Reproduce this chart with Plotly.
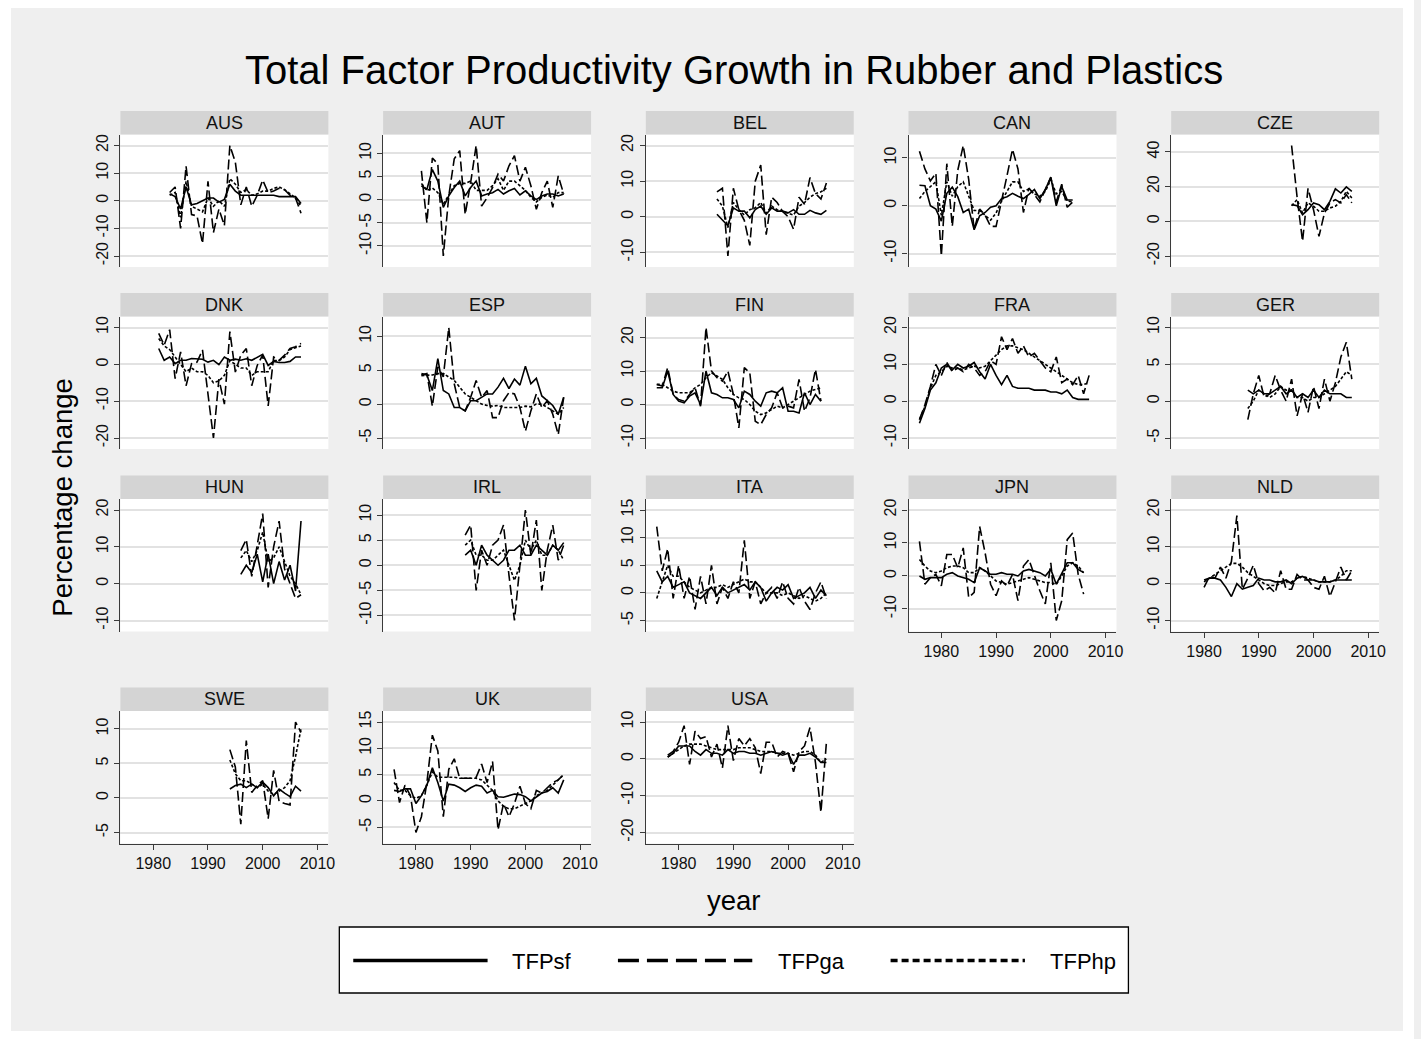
import plotly.graph_objects as go

W, H = 1421, 1039
FONT = "Liberation Sans, Arial, Helvetica, sans-serif"

TITLE = "Total Factor Productivity Growth in Rubber and Plastics"
Y_TITLE = "Percentage change"
X_TITLE = "year"
SERIES = ["TFPsf", "TFPga", "TFPhp"]
X_TICKS = [1980, 1990, 2000, 2010]

# ---- growth rates (percent), one list per measure, consecutive years from *_START ----
AUS_START = 1983
AUS_SF = [2.5, 1.5, -3, 5, -1.5, -1, 0, 1, 1, -0.5, 0.5, 6, 3.5, 2, 2, 2, 2, 2, 2, 2, 1.5, 1.5, 1.5, 1.5, -1]
AUS_GA = [3, 5, -10, 12.5, -5, -5.5, -15.5, 7, -11.5, -3, -9, 20, 14, -1.5, 5, -2, 2, 7.5, 3, 3.5, 4.5, 4, 2, 1, -4.5]
AUS_HP = [2, 3, -6, 7, -2, -3, -4, 1, -2, 0, -2, 8, 6, 3, 4, 2, 2.5, 3.5, 3.5, 4.5, 5, 4, 2.5, 1, -2]
AUS_YTICKS = [-20, -10, 0, 10, 20]

AUT_START = 1981
AUT_SF = [3, 2.2, 6.5, 4, -1.7, 0.8, 2.6, 4, 0.8, 2.6, 4, 0.8, 1.2, 1.5, 2.2, 1.2, 1.9, 2.4, 1, 1.9, 0.8, 0, 0.8, 1.2, 1.2, 0.8, 1.2]
AUT_GA = [6.2, -5, 9, 7.7, -12.2, 0.8, 8.8, 10.6, -3.2, 3.7, 11.7, -1.4, 0.4, 2.6, 5.5, 4, 7.3, 9.5, 4, 7, 3, -2.1, 1.5, 4, -1.7, 5.1, 1.2]
AUT_HP = [3.5, 2, 2.5, 1.5, -1, 1, 3, 3.5, 3.5, 4, 2, 2, 2, 3, 4.5, 2, 4, 4, 3, 2, 0.5, -0.5, 0.5, 1, 0.5, 1.5, 1.5]
AUT_YTICKS = [-10, -5, 0, 5, 10]

BEL_START = 1987
BEL_SF = [0.7, -0.8, -2.5, 2.5, 1.6, 1.6, -0.3, 2, 3, 0.7, 2.5, 1.6, 1.6, 1.1, 2, 0.7, 0.7, 1.8, 1.1, 0.7, 1.8]
BEL_GA = [7, 8, -11, 8, 2, -1, -8, 10, 14.5, -5, 5.5, 4, 1.5, 0, -3.5, 5.5, 3.5, 11, 6.5, 5, 9.5]
BEL_HP = [5, 3, -3, 4, 2, 0.5, 2, 2.5, 4, 1, 3, 2, 1.5, 1, 0.5, 3, 4, 5.5, 6.5, 7, 8]
BEL_YTICKS = [-10, 0, 10, 20]

CAN_START = 1976
CAN_SF = [4.3, 4.2, 0, -0.7, -3.2, 2.6, 3.9, 1.9, -1.4, -0.7, -5, -2.1, -1.4, -0.3, 0, 1.5, 1.9, 2.6, 2, 1.5, 2.4, 3.4, 1.5, 3.4, 6, 0, 4, 1.2, 1.2]
CAN_GA = [11.4, 7.7, 5.2, 6.8, -10.5, 8.8, -4.3, 7.4, 12.6, 5.5, -5, -0.7, -2, -4.3, -4.3, 0.8, 6.3, 11.8, 7.7, -1.4, 3.7, 2.3, 0.8, 3.4, 5.9, 0.8, 4.5, -0.3, 0.8]
CAN_HP = [1.5, 3, 4, 5, -2, 5, 2, 4, 5, 2, -1, -1, -2, -3, -1.5, 1, 3, 5, 5, 3, 3.5, 2.5, 2, 3, 5.5, 2.5, 3, 1, 0.8]
CAN_YTICKS = [-10, 0, 10]

CZE_START = 1996
CZE_SF = [9.6, 9, 3.8, 6.7, 10.6, 9.6, 6.7, 11.5, 18.7, 16.3, 19.8, 17.3]
CZE_GA = [43.7, 14, -11.5, 19, 6.7, -8.7, 4.8, 10.6, 12.5, 10.6, 15.4, 10.6]
CZE_HP = [9, 12.5, 4.8, 10.6, 8.7, 5.8, 5.8, 7.7, 8.7, 11.5, 17.3, 13.5]
CZE_YTICKS = [-20, 0, 20, 40]

DNK_START = 1981
DNK_SF = [4.3, 1.1, 2, 0.2, 1.1, 1.1, 1.6, 1.6, 1.4, 0.6, 1.1, -0.1, 2, 1.1, 1.4, 1.1, 1.5, 1.1, 2, 2.7, -0.3, 0.8, 0.5, 0.5, 0.8, 2, 2]
DNK_GA = [8.4, 5.2, 9.4, -3.9, 3.4, -5.8, 0.2, 0.6, 3.9, -8.5, -20, -4, -10.8, 8.9, -2.1, 2.5, 4.3, -5.8, -0.3, 2.5, -11.3, 2, 1.1, 2.5, 4.3, 4.8, 5.7]
DNK_HP = [7, 5, 4, 2, 0, -2, -1, -2, -2, -3, -5, -4.5, -3, 1, 0, -1, -1, -3, -2, -2, -2, 1, 1, 2, 4, 4.5, 5]
DNK_YTICKS = [-20, -10, 0, 10]

ESP_START = 1981
ESP_SF = [4.5, 4.3, 2, 6.7, 2, 1.5, -0.5, -0.5, -1, 0.5, 0.5, 1, 1.5, 1.5, 2.5, 3.8, 2.3, 3.7, 2.8, 5.6, 3, 3.8, 1.2, 0.5, -0.2, -1.5, 1]
ESP_GA = [4.3, 4.5, -0.3, 5.5, 4, 11.3, 3, -0.5, -1, 1, 3.5, 1, 2, -2, -2, 0.5, 1.7, 1.5, -0.5, -4, -1, 1.5, -0.5, 0.5, -1.5, -4.5, 1]
ESP_HP = [4.2, 4.2, 4.3, 4.5, 4.5, 4, 3.5, 2.5, 1.5, 1, 0.5, 0, -0.2, -0.3, -0.2, -0.5, -0.5, -0.5, -0.5, -0.3, -0.4, 0, 0, -0.5, -1, -1.5, -0.5]
ESP_YTICKS = [-5, 0, 5, 10]

FIN_START = 1976
FIN_SF = [5, 5, 10, 3, 1, 0.5, 2.5, 3.5, 0, 10, 3.5, 3, 2, 2, 1.5, -1, 4, 3, 1, -0.5, 3.5, 4, 3.5, 5, -2, -2, -2.5, 3.5, 0, 3, 1]
FIN_GA = [6, 5.5, 11, 3, 1.5, 1, 3, 5, -0.5, 23, 10, 8, 7, 10, 3, -7, 11, 9.5, -5, -6, -3, -1, 3.5, -1, -0.5, -1, 7.5, -2, 2, 10.5, 1]
FIN_HP = [6, 6, 5, 4, 3.5, 3.5, 3.5, 5, 6, 8, 9.5, 8.5, 7.5, 5, 3, 2, 1.5, 0, -2, -3, -2.5, -1.5, -0.5, -1, 0, 1, 2, 3, 4, 4.5, 5]
FIN_YTICKS = [-10, 0, 10, 20]

FRA_START = 1976
FRA_SF = [-6, -2, 3, 5, 9, 10, 8.5, 10, 9, 9.5, 10.5, 8, 6, 10, 7, 4.5, 7, 4, 3.5, 3.5, 3.5, 3, 3, 3, 2.5, 2.5, 2, 3, 1, 0.5, 0.5, 0.5]
FRA_GA = [-5, -1, 4, 10, 7, 10.5, 8, 9, 8, 10, 9, 7, 8, 11, 10, 17.5, 14, 17, 13, 15, 12, 13, 11, 9, 8, 12, 5, 6, 4.5, 7, 2, 7]
FRA_HP = [-5, -1.5, 3.5, 7, 8, 9.5, 9, 9, 8.5, 9, 9.5, 9, 9.5, 11, 12.5, 14, 15, 15, 14.5, 14, 13, 12, 11, 10, 9, 8, 7, 6, 5, 4.5, 4.5, 5]
FRA_YTICKS = [-10, 0, 10, 20]

GER_START = 1988
GER_SF = [1.5, 1, 1.5, 1, 1, 1.5, 2, 1, 1.5, 0.5, 1, 0.5, 1.5, 0.5, 1.5, 1, 1, 1, 0.5, 0.5]
GER_GA = [-2.5, 1, 3.5, 0.5, 1, 3.5, 1.5, 0, 3, -2, 1, -1.5, 2, -1, 3, 0, 2.5, 6, 8, 3]
GER_HP = [-1, 0, 1.5, 1, 0.5, 1, 2, 1.5, 1.5, 0.5, 0.5, 0, 0.5, 0.5, 1, 1.5, 2, 3, 4, 3.5]
GER_YTICKS = [-5, 0, 5, 10]

HUN_START = 1996
HUN_SF = [2.5, 5, 3, 8, 0.5, 8, 0, 6, 1, 5, -2, 17]
HUN_GA = [9, 12, 2, 10, 19, -1, 10, 17, 4, 0, -4, -3]
HUN_HP = [7, 9, 6, 9, 14, 6, 7, 10, 6, 2, 0, -3]
HUN_YTICKS = [-10, 0, 10, 20]

IRL_START = 1989
IRL_SF = [2, 3, 0, 4, 2, 1, 0, 1, 3, 3, 4, 2, 2, 4, 3, 2, 4, 3, 4.5]
IRL_GA = [6, 8, -5, 3, 0, 4, 5, 8, -2, -11, 0, 11, 2, 9, -5, 3, 8, 1, 4]
IRL_HP = [4, 5, 2, 2, 1, 1, 2, 3, 0, -3, 0, 5, 3, 5, 2, 2, 4, 3, 1]
IRL_YTICKS = [-10, -5, 0, 5, 10]

ITA_START = 1976
ITA_SF = [4, 2, 3, 1, 1.5, 2, 0, -0.5, -1, 0, 1, -0.5, 1, 0, 0.5, 1, 1.5, 0.5, 2, 1, -1.5, 0, 1, 0.5, 1.5, -1, -0.5, 0, 1, -1, 0.5, -0.5]
ITA_GA = [12, 4, 8, -1, 5, -1, 3, -3, 3, -2, 5, -2, 1, -1, 2, 0, 9.5, -1, 2, -2, 0, 1, -1, 2, -1, -2, 1, -1.5, -3, 0, 2, -1]
ITA_HP = [-1, 2, 5, 3, 3, 2, 1, 0.5, 0, 0.5, 1, 1, 1.5, 1, 1.5, 2, 2.5, 2, 2, 1, 0, 0, 0, -0.5, 0, -0.5, -1, -0.5, -1, -1.5, -1, 0]
ITA_YTICKS = [-5, 0, 5, 10, 15]

JPN_START = 1976
JPN_SF = [0, -1, -0.5, -0.5, -0.5, 0.5, 1, 0, -0.5, -1, -2, 2.5, 1.5, 0.5, 0.5, 1, 0.5, 0.5, 0, 1.5, 2, 1.5, 1, 0, 2, -2.5, 1, 4, 4, 2, 1]
JPN_GA = [10.5, -2.5, -0.5, 0.5, -3, 6.5, 6.5, 2.5, 8.5, -6.5, -5, 15, 7, -2.5, -6, -1.5, -3, 0.5, -7.5, 3, 5, 0, -4.5, -8.5, 4, -13.5, -7.5, 11, 13, 0.5, -5.5]
JPN_HP = [5, 3, 1.5, 1, 1.5, 2.5, 3, 3, 2.5, 1, 1, 2.5, 1.5, 0, -1.5, -2, -2.5, -2, -1.5, -1, -0.5, -1, -1.5, -2, -2, -2.5, 0, 3, 4, 3, 1]
JPN_YTICKS = [-10, 0, 10, 20]

NLD_START = 1980
NLD_SF = [1, 1.5, 1.5, 1, -1, -3.5, 0, -1.5, -1, -0.5, 1.5, 1, 1, 0.5, 0.5, 1, 0, 1.5, 2, 1, 1, 0.5, 0.5, 0.5, 1, 1, 1, 1]
NLD_GA = [-1, 2, 1.5, 4.5, 1.5, 6, 18.5, -1.5, 1.5, 5, 0, -2, -1, -2.5, 3.5, -1.5, -1.5, 2.5, 1, 1, -1, -1.5, 2, -3.5, 0.5, 4.5, 1, 3.5]
NLD_HP = [0.5, 1.5, 2.5, 3.5, 4.5, 5.5, 5.5, 4.5, 3, 2, 1, 0, -0.5, -0.5, 0, 0.5, 0.5, 1.5, 2, 1.5, 1, 0.5, 0.5, 0.5, 1, 2, 3.5, 3.5]
NLD_YTICKS = [-10, 0, 10, 20]

SWE_START = 1994
SWE_SF = [1.3, 1.8, 2, 1.5, 2, 1.5, 2.3, 1.5, 0.3, 1.3, 0.7, 0.2, 1.7, 1]
SWE_GA = [7, 4.5, -3.8, 8.3, 0.8, 1.8, 2.5, -3, 4, -0.5, -0.8, -1, 11, 9.5]
SWE_HP = [5.5, 3.5, 2.5, 2.5, 2, 1.5, 2, 1, 0.5, 1, 1.5, 2.5, 6, 10]
SWE_YTICKS = [-5, 0, 5, 10]

UK_START = 1976
UK_SF = [2, 1.8, 2.3, 2.3, -0.5, 1, 3, 6.3, 3.5, 0, 3.2, 3, 2.5, 1.8, 2.5, 3, 2.8, 1.5, 2, 0.8, 0.7, 1, 1.3, 1.2, 0.8, 0, 0.8, 1.5, 1.8, 2.5, 1.5, 4]
UK_GA = [6, -0.3, 3, 1, -6, -3, 3.5, 12.5, 9.5, -3, 6, 8, 4.3, 4.3, 4.3, 4.5, 7, 3.5, 7.5, -5.5, -0.5, -3, -0.5, 2.8, -0.5, -1.5, 2, 1.5, 2.5, 3.5, 4, 5]
UK_HP = [3.5, 2, 2, 1, 0.5, 1, 3, 5.5, 4.5, 4.5, 4.5, 4.5, 4.3, 4.3, 4.3, 4.3, 4, 3, 2, 0, -1, -1.5, -1.5, -1, -0.5, 0, 1, 1.5, 2, 3, 4, 5]
UK_YTICKS = [-5, 0, 5, 10, 15]

USA_START = 1978
USA_SF = [0.5, 1.5, 3.5, 3.5, 3.5, 2, 1, 2.5, 1.5, 1.5, 1, 2.5, 1.5, 2, 2, 1.5, 1.5, 1, 1.5, 2, 1.5, 1, 1.5, -1.5, 1, 1, 1.5, 0.5, -1, -1]
USA_GA = [1, 2, 4.5, 9, -1.5, 7.5, 5.5, 6, 0.5, 4, -2.5, 9, -0.5, 5.5, 3.5, 5.5, 3, -4, 4.5, 4.5, 0.5, 2, 1.5, -3.5, 2, 3.5, 8.5, -1, -14.5, 4.5]
USA_HP = [0.5, 1.5, 2.5, 3.5, 4, 4, 4, 3.5, 3, 2.5, 2.5, 2.5, 2.5, 3, 3, 3, 2.5, 2, 2, 2, 1.5, 1.5, 1.5, 1, 1.5, 2, 2, 1, -1, 0]
USA_YTICKS = [-20, -10, 0, 10]

PANELS = [
    ("AUS", AUS_START, AUS_SF, AUS_GA, AUS_HP, AUS_YTICKS),
    ("AUT", AUT_START, AUT_SF, AUT_GA, AUT_HP, AUT_YTICKS),
    ("BEL", BEL_START, BEL_SF, BEL_GA, BEL_HP, BEL_YTICKS),
    ("CAN", CAN_START, CAN_SF, CAN_GA, CAN_HP, CAN_YTICKS),
    ("CZE", CZE_START, CZE_SF, CZE_GA, CZE_HP, CZE_YTICKS),
    ("DNK", DNK_START, DNK_SF, DNK_GA, DNK_HP, DNK_YTICKS),
    ("ESP", ESP_START, ESP_SF, ESP_GA, ESP_HP, ESP_YTICKS),
    ("FIN", FIN_START, FIN_SF, FIN_GA, FIN_HP, FIN_YTICKS),
    ("FRA", FRA_START, FRA_SF, FRA_GA, FRA_HP, FRA_YTICKS),
    ("GER", GER_START, GER_SF, GER_GA, GER_HP, GER_YTICKS),
    ("HUN", HUN_START, HUN_SF, HUN_GA, HUN_HP, HUN_YTICKS),
    ("IRL", IRL_START, IRL_SF, IRL_GA, IRL_HP, IRL_YTICKS),
    ("ITA", ITA_START, ITA_SF, ITA_GA, ITA_HP, ITA_YTICKS),
    ("JPN", JPN_START, JPN_SF, JPN_GA, JPN_HP, JPN_YTICKS),
    ("NLD", NLD_START, NLD_SF, NLD_GA, NLD_HP, NLD_YTICKS),
    ("SWE", SWE_START, SWE_SF, SWE_GA, SWE_HP, SWE_YTICKS),
    ("UK", UK_START, UK_SF, UK_GA, UK_HP, UK_YTICKS),
    ("USA", USA_START, USA_SF, USA_GA, USA_HP, USA_YTICKS),
]
# panels that carry the year axis (nothing drawn below them)
X_AXIS_PANELS = {"JPN", "NLD", "SWE", "UK", "USA"}

# ---- page geometry (pixels) ----
COL_LEFT = [121, 385, 649, 913, 1177]
ROW_TOP = [134.5, 316.5, 499, 711]
PANEL_W = 209
PANEL_H = 132.5
STRIP_H = 23.5
PAD_PX = 11          # inner margin between the data/tick span and the plot edge

BG = "#EFEFEF"
STRIP = "#D4D4D4"
GRID = "#E2E2E2"
AXIS = "#3A3A3A"
INK = "#111111"

LINE_STYLE = {
    "TFPsf": dict(dash="solid", width=1.6),
    "TFPga": dict(dash="10px,4px", width=1.6),
    "TFPhp": dict(dash="3px,2px", width=1.6),
}
LEGEND_DASH = {"TFPsf": "solid", "TFPga": "21px,8px", "TFPhp": "7px,4px"}


def px(x):
    return x / W


def py(y):
    return 1 - y / H


def padded(lo, hi, length):
    extra = (hi - lo) * PAD_PX / (length - 2 * PAD_PX)
    return [lo - extra, hi + extra]


def tick_text(v):
    # plain hyphen-minus, as in the printed axis labels
    return str(int(v)) if float(v).is_integer() else str(v)


first_year = min(p[1] for p in PANELS)
last_year = max(p[1] + len(p[2]) - 1 for p in PANELS)
X_RANGE = padded(min(first_year, X_TICKS[0]), max(last_year, X_TICKS[-1]), PANEL_W)

fig = go.Figure()
shapes = []
annotations = []
layout_axes = {}

for i, (name, start, sf, ga, hp, yticks) in enumerate(PANELS):
    r, c = divmod(i, 5)
    n = i + 1
    suffix = "" if n == 1 else str(n)
    years = [start + k for k in range(len(sf))]

    for label, vals in zip(SERIES, (sf, ga, hp)):
        st = LINE_STYLE[label]
        fig.add_trace(go.Scatter(
            x=years, y=vals, mode="lines", name=label,
            line=dict(color="black", width=st["width"], dash=st["dash"]),
            xaxis="x" + suffix, yaxis="y" + suffix,
            showlegend=False, hoverinfo="skip",
        ))

    x0 = COL_LEFT[c]
    x1 = x0 + PANEL_W
    top = ROW_TOP[r]
    bot = top + PANEL_H

    vals_all = sf + ga + hp
    y_range = padded(min(min(vals_all), yticks[0]), max(max(vals_all), yticks[-1]), PANEL_H)

    has_x = name in X_AXIS_PANELS
    layout_axes["xaxis" + suffix] = dict(
        domain=[px(x0), px(x1)], anchor="y" + suffix, range=X_RANGE,
        showgrid=False, zeroline=False,
        showline=has_x, linecolor=AXIS, linewidth=1.3,
        ticks="outside" if has_x else "", ticklen=5, tickcolor=AXIS, tickwidth=1.3,
        tickvals=X_TICKS, ticktext=[str(t) for t in X_TICKS], showticklabels=has_x,
        tickfont=dict(family=FONT, size=16, color=INK),
    )
    layout_axes["yaxis" + suffix] = dict(
        domain=[py(bot), py(top)], anchor="x" + suffix, range=y_range,
        tickvals=yticks, ticktext=[tick_text(v) for v in yticks], tickangle=-90,
        showgrid=True, gridcolor=GRID, gridwidth=1.6, zeroline=False,
        showline=True, linecolor=AXIS, linewidth=1.3,
        ticks="outside", ticklen=5, tickcolor=AXIS, tickwidth=1.3,
        tickfont=dict(family=FONT, size=16, color=INK),
    )

    # panel strip with the country code
    shapes.append(dict(type="rect", xref="paper", yref="paper",
                       x0=px(x0), x1=px(x1), y0=py(top), y1=py(top - STRIP_H),
                       fillcolor=STRIP, line=dict(width=0), layer="below"))
    annotations.append(dict(text=name, xref="paper", yref="paper",
                            x=px((x0 + x1) / 2), y=py(top - STRIP_H / 2),
                            xanchor="center", yanchor="middle", showarrow=False,
                            font=dict(family=FONT, size=18, color=INK)))

# white frame around the grey page
for (a, b, cc, d) in [(0, 0, W, 8), (0, 1031, W, H), (0, 0, 11, H), (1410, 0, W, H)]:
    shapes.append(dict(type="rect", xref="paper", yref="paper",
                       x0=px(a), x1=px(cc), y0=py(d), y1=py(b),
                       fillcolor="white", line=dict(width=0), layer="above"))

# titles
annotations.append(dict(text=TITLE, xref="paper", yref="paper", x=px(738), y=py(70),
                        xanchor="center", yanchor="middle", showarrow=False,
                        font=dict(family=FONT, size=40, color="black")))
annotations.append(dict(text=Y_TITLE, xref="paper", yref="paper", x=px(62), y=py(497),
                        xanchor="center", yanchor="middle", showarrow=False, textangle=-90,
                        font=dict(family=FONT, size=27.5, color="black")))
annotations.append(dict(text=X_TITLE, xref="paper", yref="paper", x=px(738), y=py(900),
                        xanchor="center", yanchor="middle", showarrow=False,
                        font=dict(family=FONT, size=27.5, color="black")))

# key
shapes.append(dict(type="rect", xref="paper", yref="paper",
                   x0=px(341), x1=px(1134), y0=py(993), y1=py(927),
                   fillcolor="white", line=dict(color="black", width=1.3), layer="above"))
KEY_LINE_X = [355, 621, 895]
KEY_TEXT_X = [513, 780, 1053]
for label, lx, tx in zip(SERIES, KEY_LINE_X, KEY_TEXT_X):
    shapes.append(dict(type="line", xref="paper", yref="paper",
                       x0=px(lx), x1=px(lx + 135), y0=py(960.5), y1=py(960.5),
                       line=dict(color="black", width=3.5, dash=LEGEND_DASH[label]),
                       layer="above"))
    annotations.append(dict(text=label, xref="paper", yref="paper", x=px(tx), y=py(961),
                            xanchor="left", yanchor="middle", showarrow=False,
                            font=dict(family=FONT, size=22, color="black")))

fig.update_layout(
    width=W, height=H, margin=dict(l=0, r=0, t=0, b=0),
    paper_bgcolor=BG, plot_bgcolor="white",
    showlegend=False, font=dict(family=FONT, color=INK),
    shapes=shapes, annotations=annotations,
    **layout_axes,
)

fig.write_html("out.html")
